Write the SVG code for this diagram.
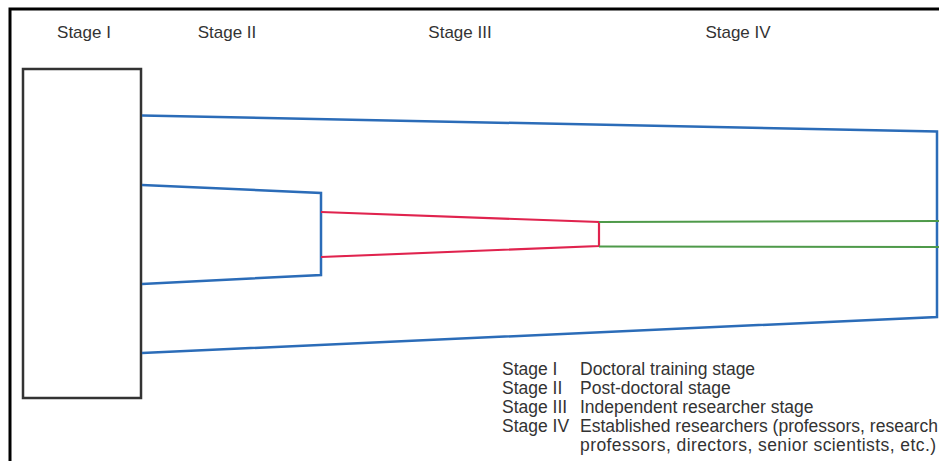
<svg xmlns="http://www.w3.org/2000/svg" width="939" height="461" viewBox="0 0 939 461">
<style>
.t{font-family:"Liberation Sans",Arial,sans-serif;font-size:17.5px;fill:#333}
.h{text-anchor:middle;font-size:17px}
.b{fill:none;stroke:#2b6cb8;stroke-width:2.5;stroke-linejoin:miter}
.r{fill:none;stroke:#e0234e;stroke-width:2.2}
.g{fill:none;stroke:#4e9a4a;stroke-width:2.2}
</style>
<rect width="939" height="461" fill="#fff"/>
<g id="frame"><path d="M10,461 V9 H939" fill="none" stroke="#000" stroke-width="3"/></g>
<g id="headers">
<text class="t h" x="84" y="38">Stage I</text>
<text class="t h" x="227" y="38">Stage II</text>
<text class="t h" x="460" y="38">Stage III</text>
<text class="t h" x="738" y="38">Stage IV</text>
</g>
<g id="stage1"><rect x="23" y="69" width="118" height="329" fill="#fff" stroke="#333" stroke-width="2.5"/></g>
<g id="connectors">
<path id="stage4" class="b" d="M142,115.5 L937,131.5 L937,317 L142,353"/>
<path id="stage2" class="b" d="M142,185 L321,193 L321,275 L142,284"/>
<path id="stage3" class="r" d="M321,212 L599,222 L599,246 L321,257"/>
<path id="stage3b" class="g" d="M599,222 L939,221 M599,246.5 L939,247"/>
</g>
<g id="legend">
<text class="t" x="502" y="375">Stage I</text><text class="t" x="580" y="375">Doctoral training stage</text>
<text class="t" x="502" y="394">Stage II</text><text class="t" x="580" y="394">Post-doctoral stage</text>
<text class="t" x="502" y="413">Stage III</text><text class="t" x="580" y="413">Independent researcher stage</text>
<text class="t" x="502" y="432">Stage IV</text><text class="t" x="580" y="432">Established researchers (professors, research</text>
<text class="t" x="580" y="451" textLength="356" lengthAdjust="spacing">professors, directors, senior scientists, etc.)</text>
</g>
</svg>
